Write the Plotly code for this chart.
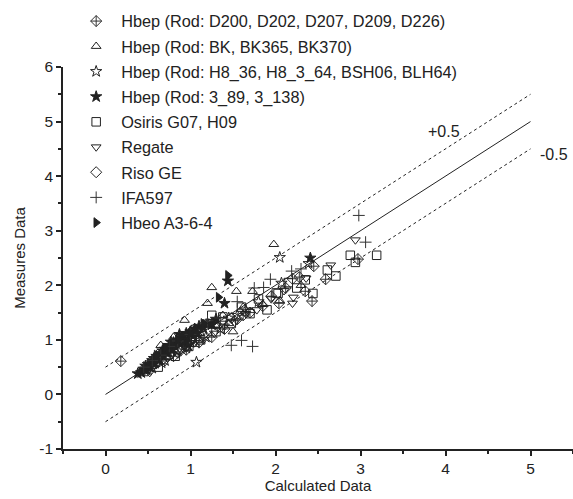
import plotly.graph_objects as go

# ---- data ----
d200_x = [0.18, 2.97, 2.45, 2.59, 2.35, 2.43, 2.04, 2.20, 2.28, 1.70, 1.55, 1.40, 1.25, 1.10, 0.95, 0.80, 1.85, 1.62, 1.95, 2.12]
d200_y = [0.61, 2.48, 2.35, 2.11, 1.89, 1.71, 1.67, 2.12, 2.15, 1.50, 1.38, 1.20, 1.05, 0.95, 0.82, 0.70, 1.62, 1.45, 1.80, 1.95]

bk_x = [0.93, 1.20, 1.25, 1.54, 1.73, 1.98, 0.65, 0.72, 0.80, 0.88, 1.02, 1.10, 1.15, 1.30, 1.38, 1.45, 1.62, 1.85, 0.58, 1.05, 1.50, 2.05, 2.30]
bk_y = [1.36, 1.67, 1.96, 1.89, 1.89, 2.75, 0.90, 0.75, 1.05, 0.95, 1.20, 1.02, 1.30, 1.25, 1.45, 1.30, 1.60, 1.65, 0.65, 0.92, 1.15, 1.72, 2.00]

h8_x = [0.55, 0.62, 0.70, 0.78, 0.85, 0.92, 1.00, 1.07, 1.12, 1.18, 1.25, 1.35, 1.45, 1.55, 1.65, 1.80, 2.05, 2.07, 2.39, 0.50, 0.66, 0.95]
h8_y = [0.48, 0.68, 0.62, 0.85, 0.80, 1.00, 0.95, 0.59, 1.15, 1.05, 1.28, 1.20, 1.40, 1.45, 1.55, 1.70, 2.51, 2.04, 2.40, 0.45, 0.58, 0.85]

r389_x = [0.38, 0.42, 0.45, 0.48, 0.50, 0.52, 0.55, 0.58, 0.60, 0.62, 0.65, 0.68, 0.70, 0.72, 0.75, 0.78, 0.80, 0.82, 0.85, 0.88, 0.90,
          0.93, 0.95, 0.98, 1.00, 1.03, 1.05, 1.08, 1.10, 1.15, 1.20, 1.25, 1.30, 1.40, 1.44, 2.41, 0.47, 0.57, 0.67, 0.77, 0.87, 0.97]
r389_y = [0.38, 0.40, 0.46, 0.45, 0.55, 0.50, 0.62, 0.57, 0.70, 0.63, 0.75, 0.70, 0.83, 0.78, 0.90, 0.82, 0.95, 0.88, 1.00, 0.92, 1.05,
          0.98, 1.12, 1.02, 1.15, 1.08, 1.20, 1.12, 1.25, 1.22, 1.30, 1.28, 1.38, 1.67, 2.08, 2.50, 0.52, 0.66, 0.80, 0.96, 1.10, 0.90]

osiris_x = [2.88, 2.94, 3.19, 2.61, 2.71, 2.44, 2.03, 2.01, 0.55, 0.62, 0.75, 0.82, 0.90, 0.98, 1.05, 1.12, 1.22, 1.30, 1.38, 1.48,
            1.60, 1.70, 1.80, 1.90, 2.15, 2.25, 2.35, 1.25, 0.45]
osiris_y = [2.55, 2.42, 2.55, 2.28, 2.17, 1.85, 1.85, 1.86, 0.55, 0.50, 0.78, 0.70, 0.98, 0.88, 1.15, 1.00, 1.30, 1.15, 1.42, 1.30,
            1.60, 1.48, 1.75, 1.55, 2.05, 1.95, 2.10, 1.45, 0.42]

regate_x = [2.94, 2.65, 2.36, 2.21, 2.20, 0.52, 0.60, 0.70, 0.78, 0.85, 0.95, 1.05, 1.15, 1.28, 1.40, 1.52, 1.65, 1.78, 1.95, 2.10, 0.90, 1.10]
regate_y = [2.83, 2.37, 2.13, 1.78, 1.67, 0.40, 0.55, 0.60, 0.72, 0.74, 0.85, 0.95, 1.00, 1.12, 1.25, 1.32, 1.48, 1.55, 1.75, 1.90, 0.95, 1.22]

riso_x = [0.60, 0.75, 0.88, 1.00, 1.15, 1.32, 1.48]
riso_y = [0.58, 0.72, 0.80, 0.98, 1.10, 1.26, 1.40]

ifa_x = [2.98, 3.06, 2.19, 1.94, 1.86, 1.48, 1.60, 1.73, 0.45, 0.55, 0.65, 0.75, 0.85, 1.00, 1.20, 1.35, 1.55, 1.75, 2.30]
ifa_y = [3.28, 2.79, 2.26, 2.11, 1.96, 0.90, 0.99, 0.88, 0.50, 0.62, 0.72, 0.88, 0.98, 1.10, 1.35, 1.40, 1.70, 1.95, 2.30]

hbeo_x = [1.44, 1.33, 0.70, 0.85, 1.00, 1.15, 0.60]
hbeo_y = [2.18, 1.78, 0.85, 1.00, 1.12, 1.30, 0.72]

line_x = [0, 5]
offset = 0.5

x_ticks = [0, 1, 2, 3, 4, 5]
x_labels = ["0", "1", "2", "3", "4", "5"]
y_ticks = [-1, 0, 1, 2, 3, 4, 5, 6]
y_labels = ["-1", "0", "1", "2", "3", "4", "5", "6"]

series = [
    ("Hbep (Rod: D200, D202, D207, D209, D226)", d200_x, d200_y, "diamond-cross-open", "#333333"),
    ("Hbep (Rod: BK, BK365, BK370)", bk_x, bk_y, "triangle-up-open", "#222222"),
    ("Hbep (Rod: H8_36, H8_3_64, BSH06, BLH64)", h8_x, h8_y, "star-open", "#222222"),
    ("Hbep (Rod: 3_89, 3_138)", r389_x, r389_y, "star", "#222222"),
    ("Osiris G07, H09", osiris_x, osiris_y, "square-open", "#222222"),
    ("Regate", regate_x, regate_y, "triangle-down-open", "#222222"),
    ("Riso GE", riso_x, riso_y, "diamond-open", "#222222"),
    ("IFA597", ifa_x, ifa_y, "cross-thin-open", "#333333"),
    ("Hbeo A3-6-4", hbeo_x, hbeo_y, "triangle-right", "#222222"),
]

fig = go.Figure()

# reference lines
fig.add_trace(go.Scatter(x=line_x, y=[v for v in line_x], mode="lines",
                         line=dict(color="#222222", width=1), showlegend=False, hoverinfo="skip"))
fig.add_trace(go.Scatter(x=line_x, y=[v + offset for v in line_x], mode="lines",
                         line=dict(color="#222222", width=1, dash="3px,3px"), showlegend=False, hoverinfo="skip"))
fig.add_trace(go.Scatter(x=line_x, y=[v - offset for v in line_x], mode="lines",
                         line=dict(color="#222222", width=1, dash="3px,3px"), showlegend=False, hoverinfo="skip"))

for i, (name, xs, ys, sym, col) in enumerate(series):
    fig.add_trace(go.Scatter(
        x=xs, y=ys, mode="markers", name=name, legendgroup=f"g{i}",
        marker=dict(symbol=sym, size=8.5, color=col, line=dict(color=col, width=1)),
    ))

fig.add_annotation(x=3.98, y=4.81, text="+0.5", showarrow=False,
                   font=dict(size=16, color="#222222", family="Liberation Sans, Arial"))
fig.add_annotation(x=5.28, y=4.39, text="-0.5", showarrow=False,
                   font=dict(size=16, color="#222222", family="Liberation Sans, Arial"))

axis_common = dict(
    showline=True, linecolor="#222222", linewidth=1.5, mirror=False,
    showgrid=False, zeroline=False,
    ticks="outside", ticklen=5, tickwidth=1.5, tickcolor="#222222",
    tickfont=dict(size=15.5, color="#222222", family="Liberation Sans, Arial"),
    minor=dict(ticks="outside", ticklen=3, tickwidth=1.5, tickcolor="#222222", dtick=0.5, showgrid=False),
)

fig.update_layout(
    width=573, height=499,
    margin=dict(l=63, r=0, t=67, b=50, autoexpand=False),
    paper_bgcolor="white", plot_bgcolor="white",
    font=dict(family="Liberation Sans, Arial", color="#222222"),
    xaxis=dict(range=[-0.5, 5.5], tickvals=x_ticks, ticktext=x_labels,
               title=dict(text="Calculated Data", font=dict(size=15), standoff=4), **axis_common),
    yaxis=dict(range=[-1, 6], tickvals=y_ticks, ticktext=y_labels,
               title=dict(text="Measures Data", font=dict(size=15), standoff=10), **axis_common),
    legend=dict(x=0.016, y=1.165, xanchor="left", yanchor="top",
                font=dict(size=16.3, color="#222222"), bgcolor="rgba(0,0,0,0)",
                tracegroupgap=1, itemsizing="trace", itemwidth=40, maxheight=420),
)

fig.write_html("out.html", config={"displayModeBar": False},
               post_script="document.body.style.margin='0';document.body.style.padding='0';")
